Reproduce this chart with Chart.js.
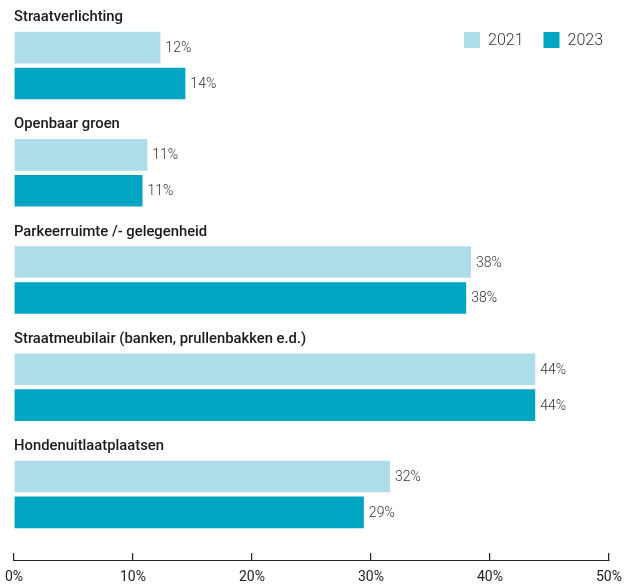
<!DOCTYPE html>
<html>
<head>
<meta charset="utf-8">
<script src="https://cdn.jsdelivr.net/npm/chart.js@4/dist/chart.umd.min.js"></script>
<style>
  html, body { margin: 0; padding: 0; background: #fff; }
</style>
</head>
<body>
<canvas id="myChart" width="625" height="585"></canvas>
<script>
// data
var categories = [
    'Straatverlichting',
    'Openbaar groen',
    'Parkeerruimte /- gelegenheid',
    'Straatmeubilair (banken, prullenbakken e.d.)',
    'Hondenuitlaatplaatsen'
];
var values2021 = [12.3, 11.2, 38.4, 43.8, 31.6];
var values2023 = [14.4, 10.8, 38.0, 43.8, 29.4];
var xTicks = [0, 10, 20, 30, 40, 50];

var lightBlue = '#afdce9';
var darkBlue = '#00a6c1';
var textColor = '#333333';

// category titles above each pair of bars, value labels, legend, axis line
var extras = {
    id: 'extras',
    afterDatasetsDraw: function(chart) {
        var ctx = chart.ctx;
        var y = chart.scales.y;
        var x = chart.scales.x;
        ctx.save();
        // titles
        ctx.font = '500 14.8px Roboto';
        ctx.fillStyle = '#1a1a1a';
        ctx.textAlign = 'left';
        ctx.textBaseline = 'middle';
        categories.forEach(function(cat, i){
            ctx.fillText(cat, x.left, y.getPixelForValue(i) - 48);
        });
        // value labels
        ctx.font = '300 14px Roboto';
        ctx.fillStyle = textColor;
        chart.data.datasets.forEach(function(ds, di){
            chart.getDatasetMeta(di).data.forEach(function(bar, i){
                ctx.fillText(Math.round(ds.data[i]) + '%', bar.x + 5, bar.y + 1);
            });
        });
        // legend, top right inside the plot
        ctx.font = '300 16px Roboto';
        var lx = 464, ly = 40;
        chart.data.datasets.forEach(function(ds){
            ctx.fillStyle = ds.backgroundColor;
            ctx.fillRect(lx, ly - 8, 16, 16);
            ctx.fillStyle = textColor;
            ctx.fillText(ds.label, lx + 24, ly + 1);
            lx += 24 + ctx.measureText(ds.label).width + 20;
        });
        // axis line below the ticks
        var ay = x.top + 12.5;
        ctx.strokeStyle = '#222';
        ctx.lineWidth = 1.2;
        ctx.beginPath();
        ctx.moveTo(x.left - 0.5, ay);
        ctx.lineTo(x.right + 0.5, ay);
        ctx.stroke();
        ctx.restore();
    }
};

var ctx = document.getElementById('myChart').getContext('2d');
var chart = new Chart(ctx, {
    type: 'bar',
    data: {
        labels: categories,
        datasets: [{
            label: '2021',
            backgroundColor: lightBlue,
            data: values2021
        },
        {
            label: '2023',
            backgroundColor: darkBlue,
            data: values2023
        }]
    },
    options: {
        indexAxis: 'y',
        responsive: false,
        animation: false,
        categoryPercentage: 0.67,
        barPercentage: 0.88,
        layout: { padding: { left: 14, right: 16, top: 12, bottom: 0 } },
        plugins: {
            tooltip: { enabled: false },
            legend: { display: false }
        },
        scales: {
            x: {
                min: 0,
                max: 50,
                afterBuildTicks: function(scale) {
                    scale.ticks = xTicks.map(function(v){ return { value: v }; });
                },
                afterFit: function(scale) {
                    scale.height = 37;
                },
                border: { display: false },
                grid: {
                    drawOnChartArea: false,
                    tickLength: 21,
                    tickBorderDash: [0, 5, 8, 100],
                    color: '#222',
                    lineWidth: 1.2
                },
                ticks: {
                    padding: 0,
                    color: '#222',
                    font: { family: 'Roboto', size: 14 },
                    callback: function(v){ return v + '%'; }
                }
            },
            y: {
                display: false
            }
        }
    },
    plugins: [extras]
});
</script>
</body>
</html>
